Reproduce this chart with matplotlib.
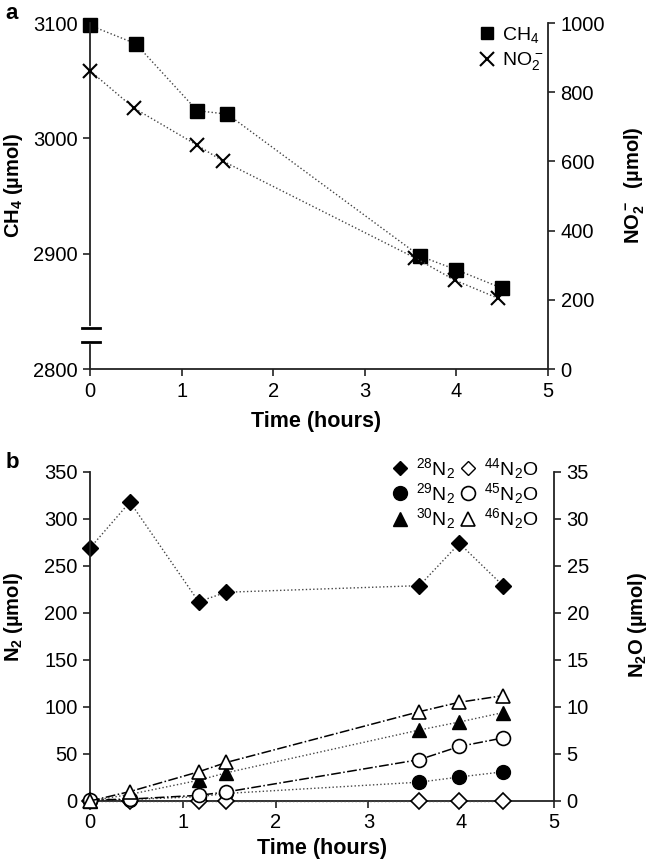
import matplotlib
matplotlib.use('Agg')
import matplotlib.pyplot as plt
import matplotlib.transforms as mtransforms
from matplotlib.lines import Line2D

plt.rcParams['font.family'] = ['Liberation Sans', 'DejaVu Sans']
plt.rcParams['mathtext.default'] = 'regular'
plt.rcParams['font.size'] = 14.5

# panel a data
t_ch4 = [0, 0.5, 1.17, 1.5, 3.6, 4.0, 4.5]
ch4 = [3098, 3082, 3024, 3021, 2898, 2886, 2870]
t_no2 = [0, 0.48, 1.17, 1.45, 3.55, 3.98, 4.45]
no2 = [862, 754, 647, 601, 321, 257, 205]

# panel b data
t_b = [0, 0.43, 1.17, 1.47, 3.55, 3.98, 4.45]
n2_28 = [269, 318, 212, 222, 229, 274, 229]
n2_29 = [0, 1.5, 4.5, 8, 20, 25.5, 31]
n2_30 = [0, 7, 22, 30, 75.5, 84, 94]
n2o_44 = [0, 0, 0, 0, 0, 0, 0]
n2o_45 = [0.1, 0.2, 0.6, 0.96, 4.4, 5.8, 6.7]
n2o_46 = [0, 1.0, 3.1, 4.1, 9.5, 10.5, 11.2]

xticks = [0, 1, 2, 3, 4, 5]
dotted = dict(ls=':', lw=1.0, color='#444444')
dashdot = dict(ls='-.', lw=1.1, color='black')


def style(ax, ax2):
    for a in (ax, ax2):
        a.spines['top'].set_visible(False)
        for s in a.spines.values():
            s.set_linewidth(1.3)
            s.set_color('#222222')
        a.tick_params(direction='out', length=5, width=1.2, color='#222222',
                      labelsize=14.5, pad=4)
    ax.spines['right'].set_visible(False)
    ax2.spines['left'].set_visible(False)
    ax2.spines['bottom'].set_visible(False)
    ax.set_xlim(0, 5)
    ax.set_xticks(xticks)


fig = plt.figure(figsize=(6.49, 8.66), dpi=100)

# ---- panel a ----
ax = fig.add_axes([0.1387, 0.5739, 0.7057, 0.3995])
ax2 = ax.twinx()
style(ax, ax2)
ax.plot(t_ch4, ch4, marker='s', ms=10, mfc='black', mec='black', clip_on=False, **dotted)
ax2.plot(t_no2, no2, marker='x', ms=10, mew=1.5, mec='black', clip_on=False, **dotted)
ax.set_ylim(2800, 3100)
ax.set_yticks([2800, 2900, 3000, 3100])
ax2.set_ylim(0, 1000)
ax2.set_yticks([0, 200, 400, 600, 800, 1000])
ax.set_xlabel('Time (hours)', fontweight='bold', fontsize=15.5)
ax.set_ylabel('CH$_4$ (µmol)', fontweight='bold', fontsize=14.5)
ax2.set_ylabel('NO$_2^-$  (µmol)', fontweight='bold', fontsize=14.5)
ax.xaxis.set_label_coords(0.493, -0.122)
ax.yaxis.set_label_coords(-0.142, 0.53)
ax2.yaxis.set_label_coords(1.162, 0.53)

# axis break marks
tr = mtransforms.blended_transform_factory(ax.transAxes, ax.transData)
ax.add_line(Line2D([0, 0], [2823.5, 2835.5], color='white', lw=3, transform=tr,
                   clip_on=False, zorder=5))
for yb in (2823.5, 2835.5):
    ax.add_line(Line2D([-0.018, 0.022], [yb, yb], color='black', lw=2, transform=tr,
                       clip_on=False, zorder=6))

h_a = [Line2D([], [], marker='s', ls='none', color='black', ms=9),
       Line2D([], [], marker='x', ls='none', color='black', ms=10, mew=1.5)]
ax2.legend(h_a, ['CH$_4$', 'NO$_2^-$'], loc='upper right', bbox_to_anchor=(1.02, 1.035),
           frameon=False, fontsize=14, handlelength=0.8, handletextpad=0.4,
           labelspacing=0.3, borderpad=0.2)

fig.text(0.008, 0.997, 'a', fontweight='bold', fontsize=16, va='top', ha='left')

# ---- panel b ----
bx = fig.add_axes([0.1387, 0.0751, 0.715, 0.38])
bx2 = bx.twinx()
style(bx, bx2)
bx.plot(t_b, n2_28, marker='D', ms=8, mfc='black', mec='black', clip_on=False, **dotted)
bx.plot(t_b, n2_29, marker='o', ms=10, mfc='black', mec='black', clip_on=False, **dotted)
bx.plot(t_b, n2_30, marker='^', ms=10, mfc='black', mec='black', clip_on=False, **dotted)
bx2.plot(t_b, n2o_44, marker='D', ms=8, mfc='white', mec='black', mew=1.2, clip_on=False, **dotted)
bx2.plot(t_b, n2o_45, marker='o', ms=10, mfc='white', mec='black', mew=1.2, clip_on=False, **dashdot)
bx2.plot(t_b, n2o_46, marker='^', ms=10, mfc='white', mec='black', mew=1.2, clip_on=False, **dashdot)
bx.set_ylim(0, 350)
bx.set_yticks(range(0, 351, 50))
bx2.set_ylim(0, 35)
bx2.set_yticks(range(0, 36, 5))
bx.set_xlabel('Time (hours)', fontweight='bold', fontsize=15.5)
bx.set_ylabel('N$_2$ (µmol)', fontweight='bold', fontsize=14.5)
bx2.set_ylabel('N$_2$O (µmol)', fontweight='bold', fontsize=14.5)
bx.xaxis.set_label_coords(0.5, -0.112)
bx.yaxis.set_label_coords(-0.141, 0.56)
bx2.yaxis.set_label_coords(1.155, 0.535)

h_b = [Line2D([], [], marker='D', ls='none', color='black', ms=7),
       Line2D([], [], marker='o', ls='none', color='black', ms=10),
       Line2D([], [], marker='^', ls='none', color='black', ms=10),
       Line2D([], [], marker='D', ls='none', mfc='white', mec='black', ms=7),
       Line2D([], [], marker='o', ls='none', mfc='white', mec='black', ms=10, mew=1.2),
       Line2D([], [], marker='^', ls='none', mfc='white', mec='black', ms=10, mew=1.2)]
lab_b = ['$^{28}$N$_2$', '$^{29}$N$_2$', '$^{30}$N$_2$',
         '$^{44}$N$_2$O', '$^{45}$N$_2$O', '$^{46}$N$_2$O']
bx2.legend(h_b, lab_b, loc='upper right', bbox_to_anchor=(0.995, 1.09), ncol=2,
           frameon=False, fontsize=14, handlelength=0.8, handletextpad=0.4,
           labelspacing=0.02, columnspacing=0.3, borderpad=0.2)

fig.text(0.008, 0.478, 'b', fontweight='bold', fontsize=16, va='top', ha='left')

fig.savefig('out.png', dpi=100)
